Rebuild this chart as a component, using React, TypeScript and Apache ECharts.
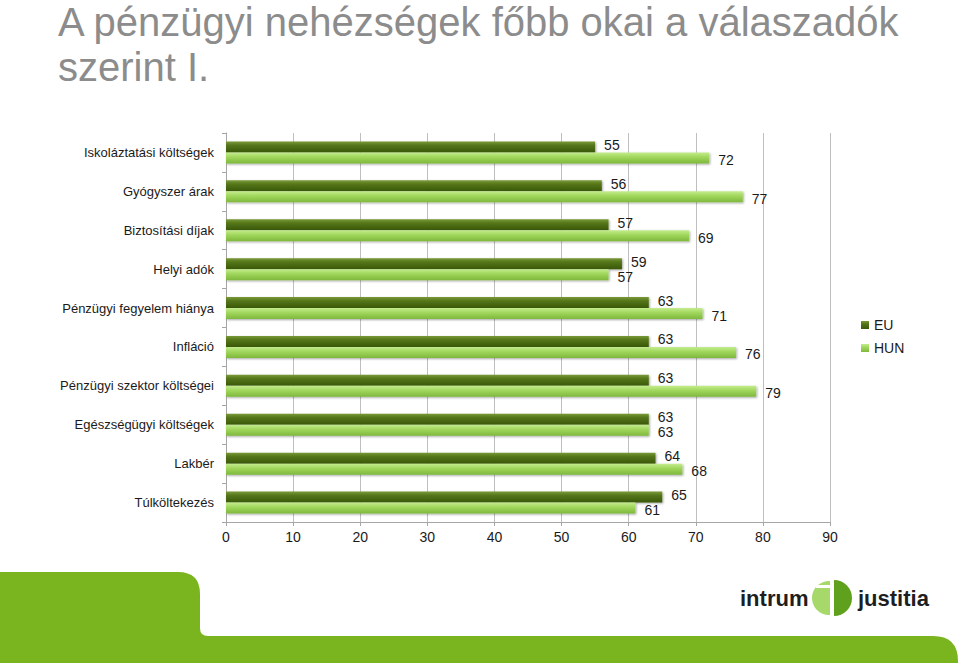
import React, { useEffect, useRef } from "react";
import * as echarts from "echarts";

const categories = [
  "Iskoláztatási költségek",
  "Gyógyszer árak",
  "Biztosítási díjak",
  "Helyi adók",
  "Pénzügyi fegyelem hiánya",
  "Infláció",
  "Pénzügyi szektor költségei",
  "Egészségügyi költségek",
  "Lakbér",
  "Túlköltekezés",
];
const euValues = [55, 56, 57, 59, 63, 63, 63, 63, 64, 65];
const hunValues = [72, 77, 69, 57, 71, 76, 79, 63, 68, 61];
const titleLines = ["A pénzügyi nehézségek főbb okai a válaszadók", "szerint I."];
const seriesNames = ["EU", "HUN"];

const FONT = "'Liberation Sans', Arial, sans-serif";

const BAND_D =
  "M0 572 L178 572 Q200 572 200 594 L200 628 Q200 636 208 636 L933 636 Q958 636 958 661 L958 663 L0 663 Z";
const ICON_D = "M834 580 A18 18 0 0 1 834 616 L834 580 Z";
const ICON_L = "M830 581 A17 17 0 0 0 828 615 L830 615 Z";

export default function App() {
  const ref = useRef<HTMLDivElement>(null);
  useEffect(() => {
    document.body.style.margin = "0";
    if (!ref.current) return;
    try {
      echarts.graphic.registerShape("band", echarts.graphic.extendPath(BAND_D, {}));
      echarts.graphic.registerShape("iconR", echarts.graphic.extendPath(ICON_D, {}));
      echarts.graphic.registerShape("iconL", echarts.graphic.extendPath(ICON_L, {}));
    } catch (e) {}
    const chart = echarts.init(ref.current, null, { renderer: "svg" });
    const euGrad = new echarts.graphic.LinearGradient(0, 0, 0, 1, [
      { offset: 0, color: "#7a9a3a" },
      { offset: 0.35, color: "#55761a" },
      { offset: 1, color: "#3a5808" },
    ]);
    const hunGrad = new echarts.graphic.LinearGradient(0, 0, 0, 1, [
      { offset: 0, color: "#c4ec8e" },
      { offset: 0.4, color: "#a2d85e" },
      { offset: 1, color: "#7eb83c" },
    ]);
    const mkLabel = (dy: number) => ({
      show: true,
      position: "right",
      distance: 9,
      offset: [0, dy],
      fontSize: 14,
      lineHeight: 12,
      color: "#1a1a1a",
      fontFamily: FONT,
    });
    const shadow = {
      shadowBlur: 2,
      shadowColor: "rgba(0,0,0,0.35)",
      shadowOffsetX: 1,
      shadowOffsetY: 1,
    };
    chart.setOption({
      animation: false,
      textStyle: { fontFamily: FONT },
      grid: { left: 226, top: 133, right: 129, bottom: 141 },
      legend: {
        orient: "vertical",
        left: 856,
        top: 313,
        itemWidth: 8,
        itemHeight: 8,
        itemGap: 9,
        icon: "rect",
        textStyle: { fontSize: 14, color: "#1a1a1a", fontFamily: FONT },
        data: seriesNames,
      },
      xAxis: {
        type: "value",
        min: 0,
        max: 90,
        interval: 10,
        axisLine: { show: true, lineStyle: { color: "#a6a6a6" } },
        axisTick: { show: true, length: 4, lineStyle: { color: "#a6a6a6" } },
        splitLine: { show: true, lineStyle: { color: "#bfbfbf" } },
        axisLabel: { fontSize: 14, color: "#1a1a1a", margin: 8, fontFamily: FONT },
      },
      yAxis: {
        type: "category",
        inverse: true,
        data: categories,
        axisLine: { show: true, lineStyle: { color: "#a6a6a6" } },
        axisTick: { show: true, length: 4, lineStyle: { color: "#a6a6a6" } },
        axisLabel: { fontSize: 13, color: "#1a1a1a", margin: 12, fontFamily: FONT },
      },
      series: [
        {
          name: seriesNames[0],
          type: "bar",
          data: euValues,
          barWidth: 11,
          barGap: "0%",
          itemStyle: { color: euGrad, ...shadow },
          label: mkLabel(-2),
        },
        {
          name: seriesNames[1],
          type: "bar",
          data: hunValues,
          barWidth: 11,
          barGap: "0%",
          itemStyle: { color: hunGrad, ...shadow },
          label: mkLabel(2),
        },
      ],
      graphic: [
        {
          type: "text",
          x: 58,
          y: 22,
          style: {
            text: titleLines[0],
            font: "40px " + FONT,
            fill: "#8c8c8c",
            textVerticalAlign: "middle",
          },
        },
        {
          type: "text",
          x: 58,
          y: 67,
          style: {
            text: titleLines[1],
            font: "40px " + FONT,
            fill: "#8c8c8c",
            textVerticalAlign: "middle",
          },
        },
        { type: "band", x: 0, y: 0, style: { fill: "#7ab41e" } },
        {
          type: "text",
          x: 740,
          y: 598,
          style: {
            text: "intrum",
            font: "bold 22px " + FONT,
            fill: "#1e1e1e",
            textVerticalAlign: "middle",
          },
        },
        {
          type: "text",
          x: 858,
          y: 598,
          style: {
            text: "justitia",
            font: "bold 22px " + FONT,
            fill: "#1e1e1e",
            textVerticalAlign: "middle",
          },
        },
        { type: "iconR", x: 0, y: 0, style: { fill: "#5fa01c" } },
        { type: "iconL", x: 0, y: 0, style: { fill: "#a6d86a" } },
        {
          type: "rect",
          shape: { x: 816, y: 585, width: 16, height: 3 },
          style: { fill: "#ffffff" },
        },
      ],
    });
    return () => chart.dispose();
  }, []);
  return <div ref={ref} style={{ width: 959, height: 663 }} />;
}
